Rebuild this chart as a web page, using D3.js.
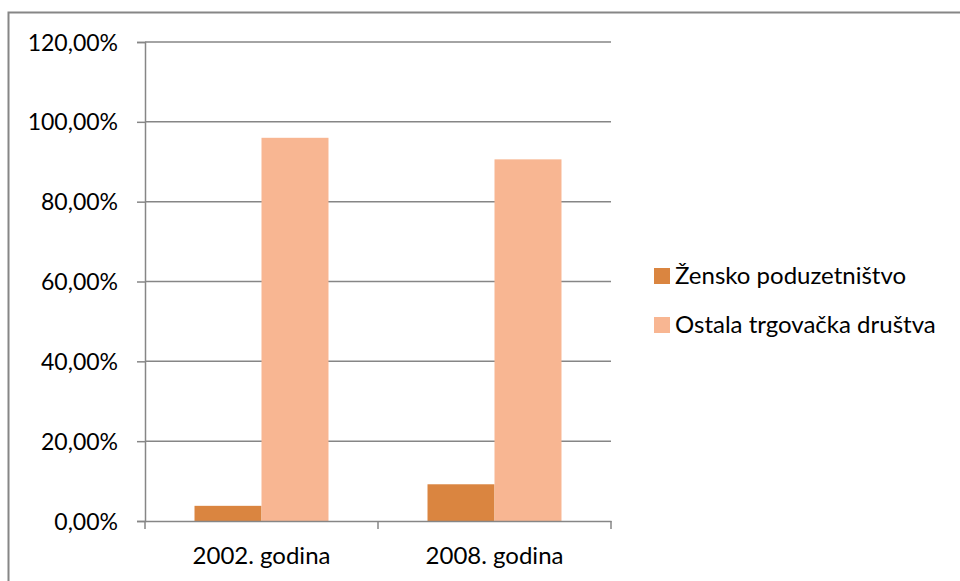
<!DOCTYPE html>
<html>
<head>
<meta charset="utf-8">
<script src="https://cdn.jsdelivr.net/npm/d3@7"></script>
<style>
  body { margin: 0; background: #fff; }
  svg text { font-family: Lato, "Open Sans", sans-serif; fill: #000; }
</style>
</head>
<body>
<div id="chart"></div>
<script>
const categories = ["2002. godina", "2008. godina"];
const seriesNames = ["Žensko poduzetništvo", "Ostala trgovačka društva"];
const zensko = [3.8, 9.2];
const ostala = [96.0, 90.6];
const yTicks = [0, 20, 40, 60, 80, 100, 120];
const colors = ["#DA8540", "#F8B692"];

const width = 960, height = 581;
const plotLeft = 145, plotRight = 611, plotTop = 42, plotBottom = 521;

const svg = d3.select("#chart").append("svg")
  .attr("width", width)
  .attr("height", height);

// outer frame
svg.append("rect")
  .attr("x", 8.5).attr("y", 12.5)
  .attr("width", 960).attr("height", 600)
  .attr("fill", "none")
  .attr("stroke", "#868686")
  .attr("stroke-width", 2);

const y = d3.scaleLinear().domain([0, 120]).range([plotBottom, plotTop]);
const x0 = d3.scaleBand().domain(categories).range([plotLeft, plotRight]);
const x1 = d3.scaleBand().domain(seriesNames).range([0, x0.bandwidth()]).paddingOuter(0.739);

const fmt = v => d3.format(".2f")(v).replace(".", ",") + "%";

// gridlines
svg.append("g").selectAll("line")
  .data(yTicks.filter(d => d > 0))
  .enter().append("line")
  .attr("x1", plotLeft).attr("x2", plotRight)
  .attr("y1", d => y(d)).attr("y2", d => y(d))
  .attr("stroke", "#868686")
  .attr("stroke-width", 1.5);

// y axis
const yAxis = svg.append("g")
  .attr("transform", "translate(" + plotLeft + ",0)")
  .call(d3.axisLeft(y).tickValues(yTicks).tickFormat(fmt).tickSize(8).tickPadding(19));
yAxis.select(".domain").attr("stroke", "#868686").attr("stroke-width", 1.5);
yAxis.selectAll(".tick line").attr("stroke", "#868686").attr("stroke-width", 1.5);
yAxis.selectAll("text").attr("font-size", 23).attr("font-family", "Lato, sans-serif").attr("dy", "0.35em");

// bars
const groups = svg.append("g").selectAll("g")
  .data(categories)
  .enter().append("g")
  .attr("transform", d => "translate(" + x0(d) + ",0)");

groups.selectAll("rect")
  .data((d, i) => [
    { key: seriesNames[0], value: zensko[i], c: colors[0] },
    { key: seriesNames[1], value: ostala[i], c: colors[1] }
  ])
  .enter().append("rect")
  .attr("x", d => x1(d.key))
  .attr("width", x1.bandwidth())
  .attr("y", d => y(d.value))
  .attr("height", d => y(0) - y(d.value))
  .attr("fill", d => d.c);

// x axis
const xAxis = svg.append("g")
  .attr("transform", "translate(0," + plotBottom + ")")
  .call(d3.axisBottom(x0).tickSize(0).tickPadding(26));
xAxis.select(".domain").attr("stroke", "#868686").attr("stroke-width", 1.5);
xAxis.selectAll("text").attr("font-size", 24).attr("font-family", "Lato, sans-serif");

// category boundary ticks
svg.append("g").selectAll("line")
  .data([plotLeft, ...categories.map(c => x0(c) + x0.bandwidth())])
  .enter().append("line")
  .attr("x1", d => d).attr("x2", d => d)
  .attr("y1", plotBottom).attr("y2", plotBottom + 8)
  .attr("stroke", "#868686")
  .attr("stroke-width", 1.5);

// legend
const legend = svg.append("g").selectAll("g")
  .data(seriesNames)
  .enter().append("g")
  .attr("transform", (d, i) => "translate(654," + (268 + i * 49) + ")");

legend.append("rect")
  .attr("width", 16).attr("height", 16)
  .attr("fill", (d, i) => colors[i]);

legend.append("text")
  .attr("x", 21).attr("y", 16)
  .attr("font-size", 24)
  .text(d => d);
</script>
</body>
</html>
